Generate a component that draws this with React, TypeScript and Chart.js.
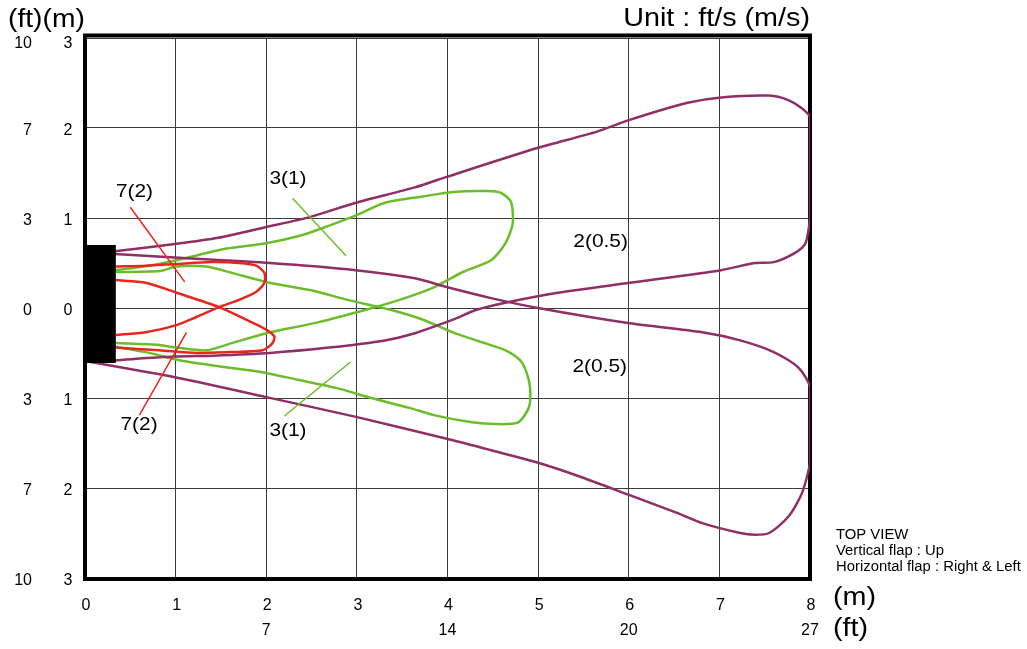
import React, { useEffect, useRef } from 'react';
import { Chart, registerables } from 'chart.js';

Chart.register(...registerables);

// ---- axis ticks ----
const xMeterTicks = [0, 1, 2, 3, 4, 5, 6, 7, 8];
const xFeetTickValues = [2, 4, 6, 8];
const xFeetTickLabels = ['7', '14', '20', '27'];
const yTickValues = [3, 2, 1, 0, -1, -2, -3];
const yMeterLabels = ['3', '2', '1', '0', '1', '2', '3'];
const yFeetLabels = ['10', '7', '3', '0', '3', '7', '10'];

// ---- indoor unit (black block) ----
const unitX = [0, 0.34, 0.34, 0, 0];
const unitY = [0.7, 0.7, -0.61, -0.61, 0.7];

// ---- 2 (0.5) envelopes (purple) ----
const purpleUpperX = [0.33, 0.99, 1.47, 2.0, 2.48, 2.99, 3.64, 4.0, 5.0, 5.65, 6.01, 6.65, 7.02, 7.55, 7.76, 7.91, 8.0, 8.0, 8.0, 8.0, 7.95, 7.83, 7.6, 7.39, 7.02, 6.01, 5.22, 4.69, 4.32, 4.06, 3.64, 3.31, 2.69, 2.04, 1.41, 0.99, 0.33];
const purpleUpperY = [0.63, 0.71, 0.78, 0.9, 1.01, 1.17, 1.34, 1.46, 1.78, 1.96, 2.09, 2.28, 2.34, 2.36, 2.31, 2.22, 2.12, 1.76, 1.31, 1.01, 0.72, 0.61, 0.51, 0.5, 0.42, 0.28, 0.17, 0.07, -0.02, -0.13, -0.28, -0.36, -0.44, -0.5, -0.53, -0.54, -0.58];
const purpleLowerX = [0.33, 0.99, 2.04, 2.99, 3.64, 4.0, 4.48, 5.0, 6.01, 6.81, 7.23, 7.6, 7.87, 8.0, 8.0, 8.0, 7.91, 7.76, 7.55, 7.39, 7.23, 6.81, 6.54, 6.01, 5.48, 5.0, 4.48, 4.06, 2.99, 2.0, 0.99, 0.0];
const purpleLowerY = [0.6, 0.56, 0.5, 0.42, 0.33, 0.23, 0.11, 0.0, -0.17, -0.27, -0.36, -0.49, -0.66, -0.88, -1.36, -1.72, -2.06, -2.32, -2.5, -2.52, -2.5, -2.39, -2.28, -2.08, -1.88, -1.72, -1.58, -1.47, -1.21, -0.99, -0.77, -0.59];

// ---- 3 (1) envelopes (green) ----
const greenUpperX = [0.33, 0.71, 1.01, 1.56, 2.0, 2.36, 2.57, 2.99, 3.31, 3.73, 4.06, 4.43, 4.59, 4.7, 4.72, 4.64, 4.48, 4.17, 3.85, 3.47, 3.1, 2.57, 2.0, 1.62, 1.34, 1.01, 0.82, 0.34];
const greenUpperY = [0.42, 0.47, 0.53, 0.66, 0.72, 0.8, 0.87, 1.03, 1.17, 1.24, 1.29, 1.3, 1.28, 1.18, 0.94, 0.72, 0.53, 0.4, 0.23, 0.09, -0.02, -0.16, -0.28, -0.39, -0.47, -0.44, -0.41, -0.39];
const greenLowerX = [0.34, 0.82, 1.01, 1.34, 1.62, 2.04, 2.48, 2.9, 3.37, 3.73, 4.06, 4.38, 4.64, 4.8, 4.87, 4.91, 4.9, 4.78, 4.53, 4.27, 3.85, 3.58, 3.16, 2.78, 2.36, 1.94, 1.57, 1.04, 0.67, 0.33];
const greenLowerY = [0.4, 0.41, 0.46, 0.46, 0.39, 0.28, 0.2, 0.09, -0.02, -0.13, -0.27, -0.38, -0.47, -0.58, -0.71, -0.88, -1.1, -1.27, -1.29, -1.27, -1.19, -1.11, -1.0, -0.89, -0.8, -0.71, -0.66, -0.58, -0.49, -0.43];

// ---- 7 (2) envelopes (red) ----
const redUpperX = [0.34, 0.67, 1.01, 1.4, 1.7, 1.89, 1.98, 1.98, 1.89, 1.7, 1.48, 1.23, 1.01, 0.67, 0.34];
const redUpperY = [0.46, 0.47, 0.49, 0.51, 0.5, 0.47, 0.39, 0.28, 0.18, 0.09, 0.01, -0.1, -0.19, -0.27, -0.3];
const redLowerX = [0.34, 0.67, 1.01, 1.48, 1.78, 2.0, 2.09, 2.07, 1.96, 1.59, 1.23, 0.82, 0.34];
const redLowerY = [0.31, 0.28, 0.17, 0.01, -0.13, -0.24, -0.32, -0.39, -0.47, -0.49, -0.5, -0.47, -0.44];

// ---- leader lines ----
const leader7UpX = [0.5, 1.1];
const leader7UpY = [1.12, 0.29];
const leader7LowX = [1.12, 0.6];
const leader7LowY = [-0.27, -1.19];
const leader3UpX = [2.29, 2.88];
const leader3UpY = [1.22, 0.58];
const leader3LowX = [2.93, 2.2];
const leader3LowY = [-0.6, -1.2];

// ---- in-plot labels ----
const labelTexts = ['7(2)', '7(2)', '3(1)', '3(1)', '2(0.5)', '2(0.5)'];
const labelX = [0.546, 0.596, 2.24, 2.24, 5.69, 5.68];
const labelY = [1.278, -1.311, 1.422, -1.378, 0.722, -0.667];

const noteLines = ['TOP VIEW', 'Vertical flap : Up', 'Horizontal flap : Right & Left'];

const PURPLE = '#8f2f66';
const GREEN = '#6cbd2b';
const RED = '#e8261e';
const FONT = '"Liberation Sans", Arial, Helvetica, sans-serif';

const pts = (xs: number[], ys: number[]) => xs.map((v, i) => ({ x: v, y: ys[i] }));

const lineDs = (xs: number[], ys: number[], color: string, width: number, tension = 0.25) => ({
  data: pts(xs, ys),
  showLine: true,
  borderColor: color,
  backgroundColor: color,
  borderWidth: width,
  pointRadius: 0,
  pointHoverRadius: 0,
  tension,
  fill: false,
});

function drawText(ctx: CanvasRenderingContext2D, text: string, x: number, y: number, size: number, align: CanvasTextAlign, scaleX = 1) {
  ctx.save();
  ctx.font = `${size}px ${FONT}`;
  ctx.fillStyle = '#000';
  ctx.textAlign = align;
  ctx.textBaseline = 'middle';
  ctx.translate(x, y);
  ctx.scale(scaleX, 1);
  ctx.fillText(text, 0, 0);
  ctx.restore();
}

const frame = {
  id: 'frame',
  beforeDatasetsDraw(chart: any) {
    const { ctx, chartArea: a } = chart;
    ctx.save();
    ctx.strokeStyle = '#000';
    ctx.lineWidth = 4;
    ctx.strokeRect(a.left, a.top - 2.5, a.right - a.left, a.bottom - a.top + 3.5);
    ctx.restore();
  },
  afterDraw(chart: any) {
    const { ctx, chartArea: a, scales } = chart;
    const xs = scales.x;
    const ys = scales.y;
    // left tick labels
    yTickValues.forEach((v, i) => {
      const py = ys.getPixelForValue(v) + (v === 3 ? 6 : 3);
      drawText(ctx, yFeetLabels[i], 32, py, 16, 'right');
      drawText(ctx, yMeterLabels[i], 68, py, 16, 'center');
    });
    // bottom tick labels
    xMeterTicks.forEach((v) => {
      drawText(ctx, String(v), xs.getPixelForValue(v) + 1, 606, 16, 'center');
    });
    xFeetTickValues.forEach((v, i) => {
      drawText(ctx, xFeetTickLabels[i], xs.getPixelForValue(v), 631, 16, 'center');
    });
    // unit headers
    drawText(ctx, '(ft)(m)', 8, 20.5, 25, 'left', 1.13);
    drawText(ctx, 'Unit : ft/s (m/s)', a.right, 19.5, 25, 'right', 1.15);
    drawText(ctx, '(m)', 833, 598.5, 25, 'left', 1.15);
    drawText(ctx, '(ft)', 833, 629.5, 25, 'left', 1.15);
    // notes
    noteLines.forEach((t, i) => {
      drawText(ctx, t, 836, 535 + i * 16, 14, 'left', 1.06);
    });
    // in-plot labels
    labelTexts.forEach((t, i) => {
      drawText(ctx, t, xs.getPixelForValue(labelX[i]), ys.getPixelForValue(labelY[i]) - 1, 19, 'center', 1.1);
    });
  },
};

export default function App() {
  const ref = useRef<HTMLCanvasElement | null>(null);

  useEffect(() => {
    document.body.style.margin = '0';
    if (!ref.current) return;
    const unitDs: any = {
      data: pts(unitX, unitY),
      showLine: true,
      borderColor: '#000',
      backgroundColor: '#000',
      borderWidth: 0,
      pointRadius: 0,
      tension: 0,
      fill: 'shape',
    };
    const gridOpts = { color: '#3c3c3c', lineWidth: 1, drawTicks: false };
    const chart = new Chart(ref.current, {
      type: 'scatter',
      data: {
        datasets: [
          unitDs,
          lineDs(leader7UpX, leader7UpY, RED, 1.5, 0),
          lineDs(leader7LowX, leader7LowY, RED, 1.5, 0),
          lineDs(leader3UpX, leader3UpY, GREEN, 1.5, 0),
          lineDs(leader3LowX, leader3LowY, GREEN, 1.5, 0),
          lineDs(redUpperX, redUpperY, RED, 2.5),
          lineDs(redLowerX, redLowerY, RED, 2.5),
          lineDs(purpleUpperX, purpleUpperY, PURPLE, 2.5),
          lineDs(purpleLowerX, purpleLowerY, PURPLE, 2.5),
          lineDs(greenUpperX, greenUpperY, GREEN, 2.5),
          lineDs(greenLowerX, greenLowerY, GREEN, 2.5),
        ] as any,
      },
      options: {
        responsive: false,
        animation: false,
        events: [],
        layout: { padding: { left: 85, right: 217, top: 38, bottom: 71 } },
        plugins: { legend: { display: false }, tooltip: { enabled: false } },
        scales: {
          x: {
            type: 'linear',
            min: 0,
            max: 8,
            ticks: { display: false, stepSize: 1 },
            grid: gridOpts,
            border: { display: false },
          },
          y: {
            type: 'linear',
            min: -3,
            max: 3,
            ticks: { display: false, stepSize: 1 },
            grid: gridOpts,
            border: { display: false },
          },
        },
      } as any,
      plugins: [frame],
    });
    return () => chart.destroy();
  }, []);

  return (
    <div style={{ position: 'absolute', left: 0, top: 0, width: 1027, height: 649 }}>
      <canvas ref={ref} width={1027} height={649} style={{ display: 'block' }} />
    </div>
  );
}
